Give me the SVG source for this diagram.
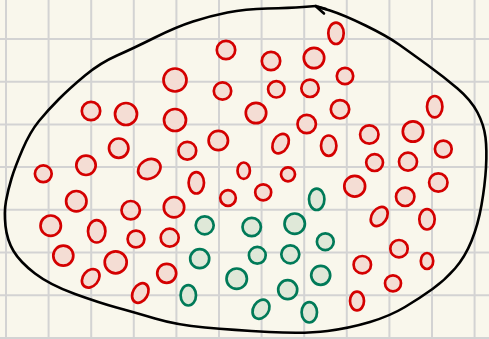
<svg xmlns="http://www.w3.org/2000/svg" width="489" height="339" viewBox="0 0 489 339">
<style>
.grid line{stroke:#d3d3d3;stroke-width:2}
.r{fill:#f4ddd4;stroke:#d40000;stroke-width:2.7}
.g{fill:#dfe8d8;stroke:#007a58;stroke-width:2.7}
.blob{fill:none;stroke:#000;stroke-width:2.6;stroke-linecap:round;stroke-linejoin:round}
</style>
<rect width="489" height="339" fill="#f9f7ec"/>
<g class="grid">
<line x1="6" y1="0" x2="6" y2="339"/><line x1="48.6" y1="0" x2="48.6" y2="339"/><line x1="91.2" y1="0" x2="91.2" y2="339"/><line x1="133.8" y1="0" x2="133.8" y2="339"/><line x1="176.4" y1="0" x2="176.4" y2="339"/><line x1="219" y1="0" x2="219" y2="339"/><line x1="261.6" y1="0" x2="261.6" y2="339"/><line x1="304.2" y1="0" x2="304.2" y2="339"/><line x1="346.8" y1="0" x2="346.8" y2="339"/><line x1="389.4" y1="0" x2="389.4" y2="339"/><line x1="432" y1="0" x2="432" y2="339"/><line x1="474.6" y1="0" x2="474.6" y2="339"/>
<line x1="0" y1="39" x2="489" y2="39"/><line x1="0" y1="81.7" x2="489" y2="81.7"/><line x1="0" y1="124.4" x2="489" y2="124.4"/><line x1="0" y1="167.1" x2="489" y2="167.1"/><line x1="0" y1="209.8" x2="489" y2="209.8"/><line x1="0" y1="252.5" x2="489" y2="252.5"/><line x1="0" y1="295.2" x2="489" y2="295.2"/><line x1="0" y1="337.9" x2="489" y2="337.9"/>
</g>
<g id="connectors">
<path class="blob" d="M 318 7 L 330 10.5 Q 344 15 365.5 25.5 Q 387 36 399 44.5 Q 411 53 427.5 65 Q 444 77 457.5 88.5 Q 471 100 477.5 112.5 Q 484 125 485.5 137.5 Q 487 150 486 167.5 Q 485 185 481.5 205 Q 478 225 471.5 241 Q 465 257 455 268.5 Q 445 280 432.5 289 Q 420 298 405 307 Q 390 316 370 322 Q 350 328 327.5 331 Q 305 334 269 332 Q 233 330 205 327.5 Q 177 325 155 318.5 Q 133 312 116.5 307.5 Q 100 303 75 294 Q 50 285 35 273.5 Q 20 262 13.5 251 Q 7 240 5.5 226 Q 4 212 6 201 Q 8 190 11.5 178.5 Q 15 167 22.5 149.5 Q 30 132 39 121 Q 48 110 59 99 Q 70 88 85 75.5 Q 100 63 117 55.5 Q 134 48 155 37.5 Q 176 27 193 21.5 Q 210 16 227.5 12.5 Q 245 9 267.5 8.5 Q 290 8 303 7 L 316 6"/>
<path class="blob" d="M 324 13.5 L 315.5 6 L 326 9"/>
</g>
<g id="red">
<circle class="r" cx="226" cy="50" r="9.2"/>
<circle class="r" cx="271" cy="61" r="9.2"/>
<circle class="r" cx="314" cy="58" r="10.2"/>
<circle class="r" cx="175" cy="80" r="11.5"/>
<circle class="r" cx="345" cy="76" r="8.2"/>
<circle class="r" cx="222.5" cy="91" r="8.7"/>
<circle class="r" cx="276.3" cy="89.3" r="8.2"/>
<circle class="r" cx="310" cy="88.3" r="8.7"/>
<circle class="r" cx="91" cy="111" r="9.2"/>
<circle class="r" cx="126" cy="114" r="11"/>
<circle class="r" cx="175" cy="120" r="11"/>
<circle class="r" cx="256" cy="113" r="10.2"/>
<circle class="r" cx="340" cy="109.3" r="9.2"/>
<circle class="r" cx="306.7" cy="124" r="9.2"/>
<circle class="r" cx="369.3" cy="134.5" r="9.2"/>
<circle class="r" cx="413" cy="131.5" r="10.2"/>
<circle class="r" cx="218.3" cy="140.5" r="9.7"/>
<circle class="r" cx="443.3" cy="149" r="8.4"/>
<circle class="r" cx="118.7" cy="148.2" r="9.7"/>
<circle class="r" cx="187.3" cy="150.7" r="8.9"/>
<circle class="r" cx="86" cy="165.3" r="9.7"/>
<circle class="r" cx="43.3" cy="173.8" r="8.4"/>
<circle class="r" cx="288" cy="174.3" r="7"/>
<circle class="r" cx="374.6" cy="162.6" r="8.4"/>
<circle class="r" cx="408" cy="161.7" r="9"/>
<circle class="r" cx="354.7" cy="186.2" r="10.4"/>
<circle class="r" cx="438.3" cy="182.5" r="9.2"/>
<circle class="r" cx="228" cy="198" r="7.8"/>
<circle class="r" cx="263.2" cy="192.3" r="8"/>
<circle class="r" cx="405.2" cy="196.8" r="9.2"/>
<circle class="r" cx="76.3" cy="201.2" r="10.2"/>
<circle class="r" cx="130.7" cy="210.2" r="9.2"/>
<circle class="r" cx="174" cy="207.2" r="10.2"/>
<circle class="r" cx="50.7" cy="225.7" r="10.2"/>
<circle class="r" cx="136" cy="239" r="8.4"/>
<circle class="r" cx="169.7" cy="237.7" r="9"/>
<circle class="r" cx="399" cy="248.7" r="8.7"/>
<circle class="r" cx="63.3" cy="255.7" r="10"/>
<circle class="r" cx="115.7" cy="262.3" r="11"/>
<circle class="r" cx="362.3" cy="264.7" r="8.7"/>
<circle class="r" cx="166.7" cy="273.3" r="9.5"/>
<circle class="r" cx="393" cy="283.3" r="8"/>
<ellipse class="r" cx="336" cy="33.3" rx="7.7" ry="10.7"/>
<ellipse class="r" cx="434.7" cy="106.7" rx="7.7" ry="10.7"/>
<ellipse class="r" cx="328.7" cy="145.7" rx="7.7" ry="10.2"/>
<ellipse class="r" cx="196.3" cy="182.8" rx="7.7" ry="10.7"/>
<ellipse class="r" cx="243.7" cy="170.7" rx="6.2" ry="8.2"/>
<ellipse class="r" cx="96.7" cy="231.3" rx="8.7" ry="11.2"/>
<ellipse class="r" cx="427" cy="219.3" rx="7.7" ry="10.2"/>
<ellipse class="r" cx="427" cy="261" rx="6.2" ry="8"/>
<ellipse class="r" cx="357" cy="301" rx="7" ry="9.4"/>
<ellipse class="r" cx="149.3" cy="169" rx="11.7" ry="9.4" transform="rotate(-30 149.3 169)"/>
<ellipse class="r" cx="280.6" cy="143.6" rx="7.4" ry="10.4" transform="rotate(30 280.6 143.6)"/>
<ellipse class="r" cx="379.2" cy="216.5" rx="7.4" ry="10.4" transform="rotate(35 379.2 216.5)"/>
<ellipse class="r" cx="90.7" cy="278.3" rx="7.7" ry="10.2" transform="rotate(40 90.7 278.3)"/>
<ellipse class="r" cx="140.3" cy="293" rx="7.4" ry="10.4" transform="rotate(30 140.3 293)"/>
</g>
<g id="green">
<circle class="g" cx="204.7" cy="225.3" r="9"/>
<circle class="g" cx="251.7" cy="227" r="9.2"/>
<circle class="g" cx="294.7" cy="223.7" r="10.2"/>
<circle class="g" cx="325.3" cy="241.7" r="8.4"/>
<circle class="g" cx="199.7" cy="258.7" r="9.5"/>
<circle class="g" cx="257.3" cy="255.3" r="8.4"/>
<circle class="g" cx="290.3" cy="254.3" r="9"/>
<circle class="g" cx="236.7" cy="278.7" r="10.2"/>
<circle class="g" cx="320.7" cy="275.3" r="9.5"/>
<circle class="g" cx="287.7" cy="289.7" r="9.5"/>
<ellipse class="g" cx="316.7" cy="199.3" rx="7.7" ry="10.7"/>
<ellipse class="g" cx="188.3" cy="295.3" rx="7.7" ry="10.2"/>
<ellipse class="g" cx="309.3" cy="312.3" rx="7.7" ry="10.2"/>
<ellipse class="g" cx="261" cy="309.3" rx="7.7" ry="10.2" transform="rotate(32 261 309.3)"/>
</g>
</svg>
